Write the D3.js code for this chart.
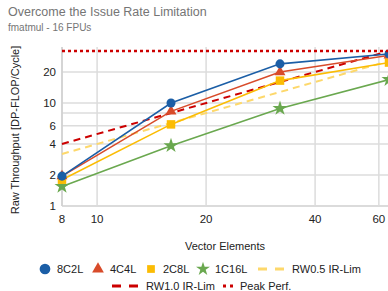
<!DOCTYPE html>
<html><head><meta charset="utf-8">
<script src="https://cdn.jsdelivr.net/npm/d3@7/dist/d3.min.js"></script>
<style>body{margin:0;background:#fff;}svg{display:block;font-family:Arial,"Liberation Sans",sans-serif;}</style>
</head><body><svg id="c" width="388" height="291"></svg>
<script>
const vectorElements = [8, 16, 32, 64];
const s8C2L  = [1.95, 10, 24, 30];
const s4C4L  = [1.95, 8.3, 20, 29];
const s2C8L  = [1.8, 6.2, 16.5, 24.7];
const s1C16L = [1.55, 3.85, 8.85, 16.9];
const rw05 = [3.2, 6.4, 12.8, 25.6];
const rw10 = [4, 8, 16, 32];
const peak = [32, 32, 32, 32];
const xTicks = [8, 10, 20, 40, 60];
const yGrid = [1, 2, 4, 6, 8, 10, 20];
const yTickLabels = [1, 2, 4, 6, 10, 20];

const svg = d3.select("#c");
const x = d3.scaleLog().base(2).domain([8, 64]).range([62, 389]);
const y = d3.scaleLog().domain([1, 32]).range([206, 51]);
const plotTop = 47;

svg.append("text").attr("x", 8).attr("y", 16).attr("font-size", 12.5).attr("fill", "#757575").text("Overcome the Issue Rate Limitation");
svg.append("text").attr("x", 8).attr("y", 31).attr("font-size", 10).attr("fill", "#757575").text("fmatmul - 16 FPUs");

const g = svg.append("g");
g.selectAll(".hg").data(yGrid).join("line").attr("x1", 62).attr("x2", 388)
  .attr("y1", d => y(d)).attr("y2", d => y(d)).attr("stroke", d => d === 1 ? "#cfcfcf" : "#dcdcdc").attr("stroke-width", 1.5);
g.selectAll(".vg").data(xTicks).join("line").attr("y1", plotTop).attr("y2", 206)
  .attr("x1", d => x(d)).attr("x2", d => x(d)).attr("stroke", "#dcdcdc").attr("stroke-width", 1.5);
g.append("line").attr("x1", 62).attr("x2", 62).attr("y1", plotTop).attr("y2", 206).attr("stroke", "#cfcfcf").attr("stroke-width", 1.5);

g.selectAll(".yl").data(yTickLabels).join("text").attr("x", 56).attr("y", d => y(d) + 4)
  .attr("text-anchor", "end").attr("font-size", 11.5).attr("fill", "#222").text(d => d);
g.selectAll(".xl").data(xTicks).join("text").attr("x", d => x(d)).attr("y", 223)
  .attr("text-anchor", "middle").attr("font-size", 11.5).attr("fill", "#222").text(d => d);

svg.append("text").attr("transform", "translate(19,130) rotate(-90)").attr("text-anchor", "middle")
  .attr("font-size", 11).attr("fill", "#222").text("Raw Throughput [DP-FLOP/Cycle]");
svg.append("text").attr("x", 225).attr("y", 250).attr("text-anchor", "middle")
  .attr("font-size", 11).attr("fill", "#222").text("Vector Elements");

const line = d3.line().x((d, i) => x(vectorElements[i])).y(d => y(d));
const series = [
  {name: "8C2L", v: s8C2L, c: "#1b5ea6", m: d3.symbolCircle, ms: 64},
  {name: "4C4L", v: s4C4L, c: "#d84b2a", m: d3.symbolTriangle, ms: 52},
  {name: "2C8L", v: s2C8L, c: "#fbbc04", m: d3.symbolSquare, ms: 72},
  {name: "1C16L", v: s1C16L, c: "#6aa84f", m: d3.symbolStar, ms: 70},
];
const lim = [
  {name: "RW0.5 IR-Lim", v: rw05, c: "#fdd86b", dash: "7,5", w: 2},
  {name: "RW1.0 IR-Lim", v: rw10, c: "#cc0000", dash: "7,5", w: 2},
  {name: "Peak Perf.", v: peak, c: "#cc0000", dash: "3,3", w: 2.5},
];
lim.slice(0,2).forEach(s => g.append("path").attr("d", line(s.v)).attr("fill", "none")
  .attr("stroke", s.c).attr("stroke-width", s.w).attr("stroke-dasharray", s.dash));
series.slice().reverse().forEach(s => {
  g.append("path").attr("d", line(s.v)).attr("fill", "none").attr("stroke", s.c).attr("stroke-width", 1.6);
  g.selectAll(null).data(s.v).join("path")
    .attr("transform", (d, i) => `translate(${x(vectorElements[i])},${y(d)})`)
    .attr("d", d3.symbol(s.m, s.ms)).attr("fill", s.c);
});
g.append("path").attr("d", line(peak)).attr("fill", "none").attr("stroke", "#cc0000")
  .attr("stroke-width", 2.5).attr("stroke-dasharray", "3,3");

const leg = svg.append("g").attr("font-size", 11).attr("fill", "#222");
const row1 = [[45, series[0]], [98, series[1]], [151, series[2]], [203, series[3]]];
row1.forEach(([px, s]) => {
  leg.append("path").attr("transform", `translate(${px},269)`).attr("d", d3.symbol(s.m, s.m === d3.symbolCircle ? 90 : 60)).attr("fill", s.c);
  leg.append("text").attr("x", px + 12).attr("y", 273).text(s.name);
});
function legLine(x1, x2, yy, s, tx, dash) {
  leg.append("line").attr("x1", x1).attr("x2", x2).attr("y1", yy).attr("y2", yy)
    .attr("stroke", s.c).attr("stroke-width", 3).attr("stroke-dasharray", dash);
  leg.append("text").attr("x", tx).attr("y", yy + 4).text(s.name);
}
legLine(258, 285, 269, lim[0], 292, "9,8");
legLine(112, 139, 286, lim[1], 146, "9,8");
legLine(223, 233, 286, lim[2], 240, "3,4");
</script></body></html>
